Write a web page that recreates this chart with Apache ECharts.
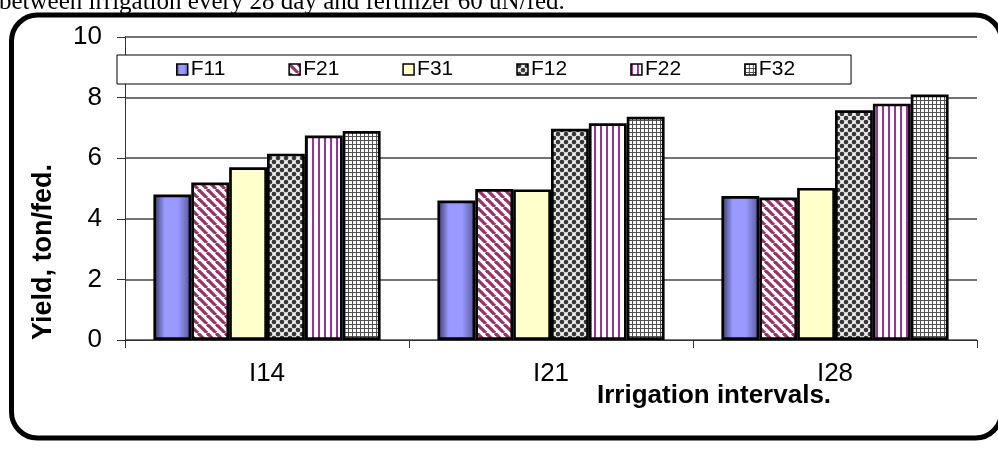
<!DOCTYPE html>
<html>
<head>
<meta charset="utf-8">
<script src="https://cdn.jsdelivr.net/npm/echarts@6/dist/echarts.min.js"></script>
<style>
  html, body { margin: 0; padding: 0; background: #fff; }
  #chart { width: 998px; height: 449px; }
</style>
</head>
<body>
<div id="chart"></div>
<script>
// ---- data ----
const categories = ['I14', 'I21', 'I28'];
const seriesNames = ['F11', 'F21', 'F31', 'F12', 'F22', 'F32'];
const F11 = [4.8, 4.6, 4.75];
const F21 = [5.2, 4.98, 4.7];
const F31 = [5.7, 4.97, 5.02];
const F12 = [6.15, 6.97, 7.58];
const F22 = [6.75, 7.15, 7.8];
const F32 = [6.9, 7.37, 8.1];
const yMin = 0, yMax = 10, yStep = 2;
const topText = 'between irrigation every 28 day and fertilizer 60 uN/fed.';
const yTitle = 'Yield, ton/fed.';
const xTitle = 'Irrigation intervals.';

// ---- patterns ----
function makeCanvas(w, h) {
  const c = document.createElement('canvas');
  c.width = w; c.height = h;
  return c;
}
function diagPattern() {
  const s = 9, c = makeCanvas(s, s), g = c.getContext('2d');
  g.fillStyle = '#ffffff'; g.fillRect(0, 0, s, s);
  g.strokeStyle = '#993366'; g.lineWidth = 3.2;
  for (const x0 of [-s, 0, s]) {
    g.beginPath(); g.moveTo(x0, 0); g.lineTo(x0 + s, s); g.stroke();
  }
  return c;
}
function vertPattern() {
  const c = makeCanvas(6, 6), g = c.getContext('2d');
  g.fillStyle = '#ffffff'; g.fillRect(0, 0, 6, 6);
  g.fillStyle = '#993399'; g.fillRect(0, 0, 2, 6);
  return c;
}
function gridPattern() {
  const c = makeCanvas(4, 4), g = c.getContext('2d');
  g.fillStyle = '#ffffff'; g.fillRect(0, 0, 4, 4);
  g.fillStyle = '#505050'; g.fillRect(0, 0, 4, 1); g.fillRect(0, 0, 1, 4);
  return c;
}
function dotPattern() {
  const s = 8, c = makeCanvas(s, s), g = c.getContext('2d');
  g.fillStyle = '#f2f2f2'; g.fillRect(0, 0, s, s);
  g.fillStyle = '#383838';
  const pts = [[2, 2], [6, 6], [2 + s, 2], [2, 2 + s], [2 - s, 2], [2, 2 - s], [6 - s, 6], [6, 6 - s]];
  for (const [x, y] of pts) { g.beginPath(); g.arc(x, y, 2.3, 0, Math.PI * 2); g.fill(); }
  return c;
}

const fills = {
  F11: new echarts.graphic.LinearGradient(0, 0, 1, 0, [
    { offset: 0, color: '#333366' },
    { offset: 0.3, color: '#9999ff' },
    { offset: 0.65, color: '#9999ff' },
    { offset: 1, color: '#55558f' }
  ]),
  F21: { image: diagPattern(), repeat: 'repeat' },
  F31: '#ffffcc',
  F12: { image: dotPattern(), repeat: 'repeat' },
  F22: { image: vertPattern(), repeat: 'repeat' },
  F32: { image: gridPattern(), repeat: 'repeat' }
};
const values = { F11, F21, F31, F12, F22, F32 };

const sans = "'Liberation Sans', Arial, sans-serif";

const chart = echarts.init(document.getElementById('chart'), null, { renderer: 'canvas' });
chart.setOption({
  animation: false,
  backgroundColor: '#ffffff',
  grid: { left: 125, right: 21, top: 37, bottom: 109, containLabel: false },
  legend: {
    data: seriesNames,
    left: 117, top: 55,
    padding: [4, 56, 4, 59],
    itemGap: 63,
    itemWidth: 11, itemHeight: 11,
    icon: 'rect',
    borderColor: '#000', borderWidth: 1,
    backgroundColor: '#fff',
    itemStyle: { borderColor: '#000', borderWidth: 1.5 },
    textStyle: { fontFamily: sans, fontSize: 21, color: '#000', padding: [0, 0, 0, -2] },
    selectedMode: false
  },
  xAxis: {
    type: 'category',
    data: categories,
    axisLine: { show: true, lineStyle: { color: '#333', width: 1 } },
    axisTick: { show: true, interval: 0, length: 8, inside: false, lineStyle: { color: '#333' } },
    axisLabel: { fontFamily: sans, fontSize: 26, color: '#000', margin: 21 },
    splitLine: { show: false }
  },
  yAxis: {
    type: 'value',
    min: yMin, max: yMax, interval: yStep,
    axisLine: { show: true, lineStyle: { color: '#333', width: 1 } },
    axisTick: { show: true, length: 8, lineStyle: { color: '#333' } },
    axisLabel: { fontFamily: sans, fontSize: 26, color: '#000', margin: 23 },
    splitLine: { show: true, lineStyle: { color: '#444', width: 1.5 } }
  },
  series: seriesNames.map(name => ({
    name,
    type: 'bar',
    data: values[name],
    barGap: '0%',
    barCategoryGap: '20%',
    itemStyle: { color: fills[name], borderColor: '#000', borderWidth: 2.7 },
    emphasis: { disabled: true }
  })),
  graphic: [
    {
      type: 'text', left: -1, top: -10, z: 1,
      style: { text: topText, font: "25px 'Liberation Serif', 'Times New Roman', serif", fill: '#000' }
    },
    {
      type: 'text', x: 44, y: 252, rotation: Math.PI / 2, z: 10,
      style: { text: yTitle, font: "bold 27px " + sans, fill: '#000', align: 'center', verticalAlign: 'middle' }
    },
    {
      type: 'text', x: 597, y: 396, z: 10,
      style: { text: xTitle, font: "bold 26px " + sans, fill: '#000', align: 'left', verticalAlign: 'middle' }
    },
    {
      type: 'rect', z: 20,
      shape: { x: 11.5, y: 15, width: 990, height: 423, r: 26 },
      style: { fill: 'none', stroke: '#000', lineWidth: 5 }
    }
  ]
});
</script>
</body>
</html>
